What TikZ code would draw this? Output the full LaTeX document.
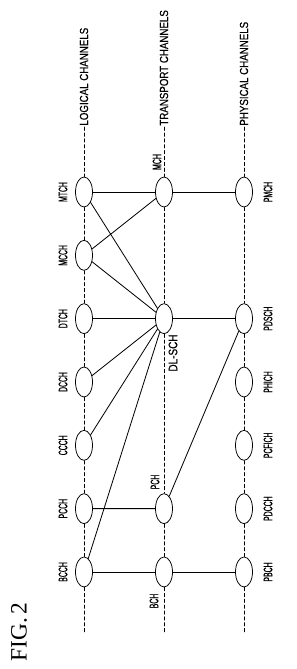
\documentclass[tikz,border=0pt]{standalone}
\usepackage{fontspec}
\setmainfont{Liberation Serif}
\newfontfamily\chanfont[FakeStretch=0.56,FakeBold=0.6]{Liberation Sans}
\newfontfamily\widefont[FakeStretch=0.81,FakeBold=0.6]{Liberation Sans}
\newfontfamily\headfont[FakeStretch=0.83,FakeBold=0.4]{Liberation Sans}
\usetikzlibrary{shapes.geometric}

\begin{document}
\begin{tikzpicture}[x=0.03cm,y=-0.03cm,line cap=round,line join=round,
  chan/.style={ellipse,draw,fill=white,line width=0.65pt,minimum width=0.51cm,minimum height=0.9cm,inner sep=0pt},
  lbl/.style={rotate=90,inner sep=0pt,font=\chanfont\fontsize{10.5}{11}\selectfont},
  hdr/.style={rotate=90,anchor=west,inner sep=1pt,font=\headfont\fontsize{10}{12}\selectfont},
  link/.style={line width=0.7pt},
  guide/.style={line width=0.45pt,dash pattern=on 3pt off 2pt}]
  \useasboundingbox (0,0) rectangle (296,669);
  \def\ya{192}
  \def\dy{63.33}
  % column heads and lower ends of the guide lines
  \node[hdr] (loghead) at (84,127) {LOGICAL CHANNELS};
  \node[hdr] (trhead) at (164,127) {TRANSPORT CHANNELS};
  \node[hdr] (phyhead) at (244,127) {PHYSICAL CHANNELS};
  \coordinate (logend) at (84,633);
  \coordinate (trend) at (164,633);
  \coordinate (phyend) at (244,633);
  % logical channels
  \foreach \n/\t [count=\k from 0] in {mtch/MTCH,mcch/MCCH,dtch/DTCH,dcch/DCCH,ccch/CCCH,pcch/PCCH,bcch/BCCH} {
    \node[chan] (\n) at (84,{\ya+\k*\dy}) {};
    \node[lbl] (\n-lbl) at (63,{\ya+\k*\dy}) {\t};
  }
  % transport channels
  \node[chan] (mch) at (164,\ya) {};
  \node[chan] (dlsch) at (164,{\ya+2*\dy}) {};
  \node[chan] (pch) at (164,{\ya+5*\dy}) {};
  \node[chan] (bch) at (164,{\ya+6*\dy}) {};
  \node[lbl] (mch-lbl) at (157,162) {MCH};
  \node[lbl,font=\widefont\fontsize{10.5}{11}\selectfont] (dlsch-lbl) at (173,353) {DL-SCH};
  \node[lbl] (pch-lbl) at (155,482) {PCH};
  \node[lbl] (bch-lbl) at (154,601) {BCH};
  % physical channels
  \foreach \n/\t/\k in {pmch/PMCH/0,pdsch/PDSCH/2,phich/PHICH/3,pcfich/PCFICH/4,pdcch/PDCCH/5,pbch/PBCH/6} {
    \node[chan] (\n) at (244,{\ya+\k*\dy}) {};
    \node[lbl] (\n-lbl) at (268,{\ya+\k*\dy}) {\t};
  }
  % guide lines
  \draw[guide] (loghead.west) -- (mtch) -- (mcch) -- (dtch) -- (dcch) -- (ccch) -- (pcch) -- (bcch) -- (logend);
  \draw[guide] (trhead.west) -- (mch) -- (dlsch) -- (pch) -- (bch) -- (trend);
  \draw[guide] (phyhead.west) -- (pmch) -- (pdsch) -- (phich) -- (pcfich) -- (pdcch) -- (pbch) -- (phyend);
  % mappings
  \draw[link] (mtch) -- (mch) -- (pmch);
  \draw[link] (mcch) -- (mch);
  \foreach \n in {mtch,mcch,dtch,dcch,ccch,bcch}
    \draw[link] (\n) -- (dlsch);
  \draw[link] (dlsch) -- (pdsch);
  \draw[link] (pcch) -- (pch) -- (pdsch);
  \draw[link] (bcch) -- (bch) -- (pbch);
  \node[rotate=90,inner sep=0pt,font=\fontsize{20}{23}\selectfont] (fig) at (19,632) {FIG.\,2};
\end{tikzpicture}
\end{document}
